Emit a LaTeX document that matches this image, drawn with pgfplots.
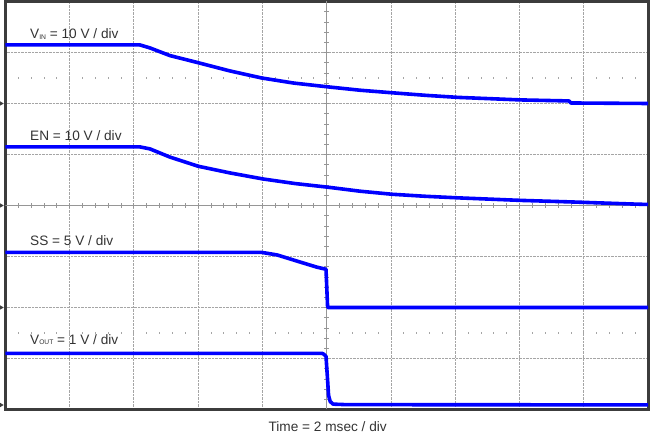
\documentclass[border=0pt]{standalone}
\usepackage{pgfplots}
\pgfplotsset{compat=1.18}
\usepackage{fontspec}
\setmainfont{Liberation Sans}
\definecolor{trace}{RGB}{0,0,255}
\definecolor{txt}{RGB}{51,51,51}
\definecolor{frm}{RGB}{60,60,60}
\definecolor{grd}{RGB}{165,165,165}
\definecolor{ctr}{RGB}{150,150,150}
\begin{document}
\begin{tikzpicture}
\begin{axis}[
  scale only axis, width=642.7bp, height=408bp,
  xmin=0, xmax=10, ymin=0, ymax=8,
  xtick={1,2,3,4,6,7,8,9}, ytick={1,2,3,5,6,7},
  xticklabels={}, yticklabels={}, major tick length=0,
  grid=major, major grid style={densely dotted, grd, line width=0.7bp},
  axis line style={frm, line width=3bp},
  every axis plot post/.append style={draw=trace, line width=3.6bp, line join=round, line cap=butt, mark=none},
]
% centre lines
\draw[ctr, line width=0.9bp] (axis cs:5,0) -- (axis cs:5,8);
\draw[ctr, line width=0.9bp] (axis cs:0,4) -- (axis cs:10,4);
\pgfplotsinvokeforeach{0.2,0.4,...,9.8}{\draw[ctr, line width=0.7bp] (axis cs:#1,4) ++(0,-2.5bp) -- ++(0,5bp);}
\pgfplotsinvokeforeach{0.2,0.4,...,7.8}{\draw[ctr, line width=0.7bp] (axis cs:5,#1) ++(-2.5bp,0) -- ++(5bp,0);}
\pgfplotsinvokeforeach{0.2,0.4,...,9.8}{\draw[grd, line width=0.7bp] (axis cs:#1,6.5) ++(0,-1bp) -- ++(0,2bp);}
\pgfplotsinvokeforeach{0.2,0.4,...,9.8}{\draw[grd, line width=0.7bp] (axis cs:#1,1.5) ++(0,-1bp) -- ++(0,2bp);}

% V_IN
\addplot coordinates {(0,7.15) (2.09,7.15) (2.25,7.09) (2.56,6.94) (3.0,6.80) (3.49,6.64) (3.99,6.50) (4.49,6.40) (4.99,6.33) (5.52,6.26) (6.02,6.21) (6.54,6.16) (7.04,6.12) (8.02,6.07) (8.77,6.05) (8.80,6.01) (10,6.00)};
% EN
\addplot coordinates {(0,5.15) (2.09,5.15) (2.25,5.11) (2.56,4.95) (3.0,4.77) (3.49,4.64) (4.01,4.52) (4.51,4.43) (5.01,4.36) (5.52,4.28) (6.02,4.22) (6.54,4.18) (7.04,4.15) (8.02,4.10) (8.80,4.07) (9.73,4.03) (10,4.02)};
% SS
\addplot coordinates {(0,3.08) (3.99,3.08) (4.23,3.03) (4.59,2.89) (4.85,2.79) (4.99,2.75) (5.015,2.00) (10,2.00)};
% V_OUT
\addplot coordinates {(0,1.10) (4.93,1.10) (4.96,1.08) (4.99,1.04) (5.015,0.57) (5.03,0.275) (5.055,0.157) (5.10,0.105) (5.30,0.095) (10,0.09)};

\begin{scope}[every node/.style={anchor=base west, inner sep=0pt, text=txt, font=\fontsize{13.7}{16}\selectfont}]
\node at (axis cs:0.384,7.265) {V\raisebox{-0.6bp}{\fontsize{6.8}{8}\selectfont IN} = 10 V / div};
\node at (axis cs:0.384,5.265) {EN = 10 V / div};
\node at (axis cs:0.384,3.225) {SS = 5 V / div};
\node at (axis cs:0.384,1.284) {V\raisebox{-0.6bp}{\fontsize{6.7}{8}\selectfont OUT} = 1 V / div};
\end{scope}

\coordinate (bl) at (rel axis cs:0,0);
\coordinate (tr) at (rel axis cs:1,1);
\coordinate (g6) at (axis cs:0,6);
\coordinate (g4) at (axis cs:0,4);
\coordinate (g2) at (axis cs:0,2);
\coordinate (g0) at (axis cs:0,0.088);
\coordinate (bc) at (axis cs:5,0);
\end{axis}
\foreach \c in {g6,g4,g2,g0}{
  \fill[frm] ([shift={(-5.3bp,2.2bp)}]\c) -- ([shift={(-1.6bp,0bp)}]\c) -- ([shift={(-5.3bp,-2.2bp)}]\c) -- cycle;
}
\node[anchor=base, inner sep=0pt, text=txt, font=\fontsize{13.7}{16}\selectfont] at ([shift={(1bp,-22bp)}]bc) {Time = 2 msec / div};
\pgfresetboundingbox
\path[use as bounding box] ([shift={(-5.3bp,-24.5bp)}]bl) rectangle ([shift={(3bp,1.5bp)}]tr);
\end{tikzpicture}
\end{document}
